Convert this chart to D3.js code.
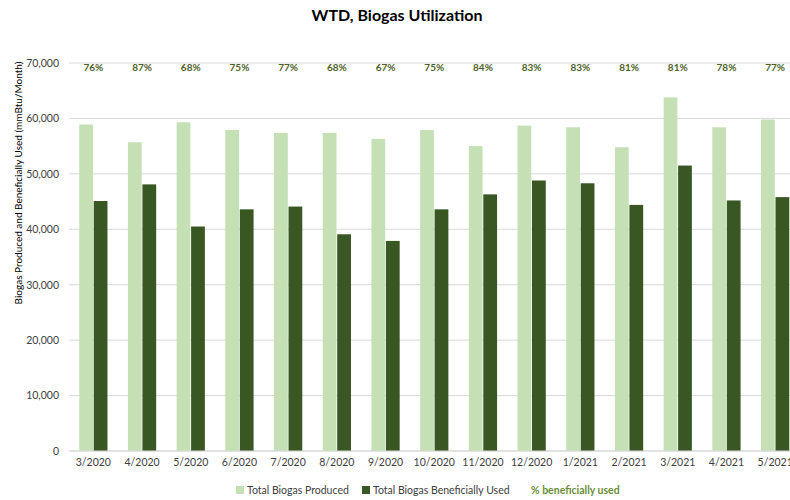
<!DOCTYPE html>
<meta charset="utf-8">
<script src="https://d3js.org/d3.v7.min.js"></script>
<style>
  body { margin: 0; background: #fff; }
  text { font-family: Lato, "Liberation Sans", sans-serif; }
</style>
<svg id="chart" width="790" height="500"></svg>
<script>

// months on the x axis
const months = ["3/2020", "4/2020", "5/2020", "6/2020", "7/2020", "8/2020", "9/2020", "10/2020",
  "11/2020", "12/2020", "1/2021", "2/2021", "3/2021", "4/2021", "5/2021"];

// mmBtu per month
const produced = [58900, 55700, 59300, 57900, 57400, 57400, 56300, 57900,
  55000, 58700, 58400, 54800, 63800, 58400, 59800];
const used = [45100, 48100, 40500, 43600, 44100, 39100, 37900, 43600,
  46300, 48800, 48300, 44400, 51500, 45200, 45800];

// % beneficially used (shown as labels)
const pctUsed = [76, 87, 68, 75, 77, 68, 67, 75, 84, 83, 83, 81, 81, 78, 77];

const yTicks = [0, 10000, 20000, 30000, 40000, 50000, 60000, 70000];

const seriesNames = ["Total Biogas Produced", "Total Biogas Beneficially Used"];
const colors = ["#c5e0b4", "#385723"];

const svg = d3.select("#chart");

// the plot runs past the right edge, as in the original
const plotLeft = 69, plotRight = 799.5, plotTop = 63, plotBottom = 451;

const x = d3.scaleBand()
  .domain(months)
  .range([plotLeft, plotRight])
  .paddingInner(0.42)
  .paddingOuter(0.21);

const x1 = d3.scaleBand()
  .domain([0, 1])
  .range([0, x.bandwidth()])
  .paddingInner(0.05);

const y = d3.scaleLinear()
  .domain([0, 70000])
  .range([plotBottom, plotTop]);

// gridlines
svg.append("g")
  .selectAll("line")
  .data(yTicks)
  .join("line")
    .attr("x1", plotLeft)
    .attr("x2", 790)
    .attr("y1", d => y(d))
    .attr("y2", d => y(d))
    .attr("stroke", "#d9d9d9")
    .attr("stroke-width", 1);

// y axis labels
const yAxis = svg.append("g")
  .attr("transform", `translate(${plotLeft - 10},0)`)
  .call(d3.axisLeft(y).tickValues(yTicks).tickFormat(d3.format(",")).tickSize(0).tickPadding(0));
yAxis.select(".domain").remove();
yAxis.selectAll("text")
  .attr("font-family", "Lato, sans-serif")
  .attr("font-size", 10.5)
  .attr("fill", "#404040");

// bars
const groups = svg.append("g")
  .selectAll("g")
  .data(months)
  .join("g")
    .attr("transform", d => `translate(${x(d)},0)`);

groups.selectAll("rect")
  .data((d, i) => [produced[i], used[i]])
  .join("rect")
    .attr("x", (d, j) => x1(j))
    .attr("width", x1.bandwidth())
    .attr("y", d => y(d))
    .attr("height", d => y(0) - y(d))
    .attr("fill", (d, j) => colors[j]);

// baseline
svg.append("line")
  .attr("x1", plotLeft).attr("x2", 790)
  .attr("y1", y(0)).attr("y2", y(0))
  .attr("stroke", "#d9d9d9");

// x axis labels
const xAxis = svg.append("g")
  .attr("transform", `translate(0,${plotBottom})`)
  .call(d3.axisBottom(x).tickSize(0).tickPadding(8));
xAxis.select(".domain").remove();
xAxis.selectAll("text")
  .attr("font-family", "Lato, sans-serif")
  .attr("font-size", 10.5)
  .attr("fill", "#404040");

// percent labels along the top
svg.append("g")
  .selectAll("text")
  .data(pctUsed)
  .join("text")
    .attr("x", (d, i) => x(months[i]) + x.bandwidth() / 2)
    .attr("y", 71)
    .attr("text-anchor", "middle")
    .attr("font-size", 10)
    .attr("font-weight", "bold")
    .attr("fill", "#4f6228")
    .text(d => d + "%");

// title
svg.append("text")
  .attr("x", 397)
  .attr("y", 21)
  .attr("text-anchor", "middle")
  .attr("font-size", 16)
  .attr("font-weight", "bold")
  .attr("fill", "#000")
  .text("WTD, Biogas Utilization");

// y axis title
svg.append("text")
  .attr("transform", "translate(22,183) rotate(-90)")
  .attr("text-anchor", "middle")
  .attr("font-size", 10)
  .attr("fill", "#000")
  .text("Biogas Produced and Beneficially Used (mmBtu/Month)");

// legend
const legend = svg.append("g").attr("font-size", 10.5);
const legendX = [236, 362];
seriesNames.forEach((name, i) => {
  legend.append("rect")
    .attr("x", legendX[i])
    .attr("y", 486)
    .attr("width", 8)
    .attr("height", 8)
    .attr("fill", colors[i]);
  legend.append("text")
    .attr("x", legendX[i] + 11)
    .attr("y", 494)
    .attr("fill", "#404040")
    .text(name);
});
legend.append("text")
  .attr("x", 531)
  .attr("y", 494)
  .attr("fill", "#6a8f3a")
  .attr("font-weight", "bold")
  .text("% beneficially used");

</script>
